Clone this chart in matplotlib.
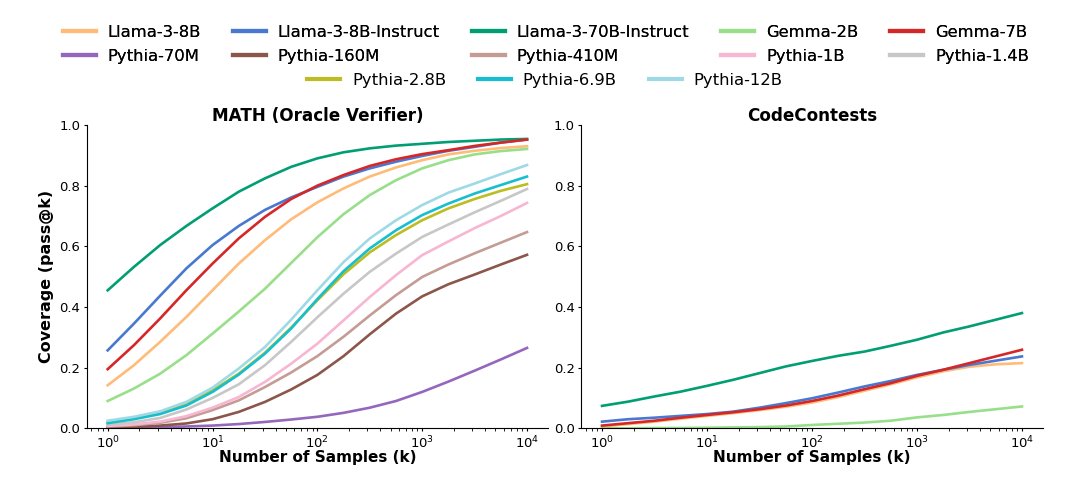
import numpy as np
import matplotlib
matplotlib.use("Agg")
import matplotlib.pyplot as plt
from matplotlib.lines import Line2D

# Samples k at quarter decades, 10^0 .. 10^4
k_exp = [0, 0.25, 0.5, 0.75, 1, 1.25, 1.5, 1.75, 2, 2.25, 2.5, 2.75, 3, 3.25, 3.5, 3.75, 4]
k = [10 ** e for e in k_exp]

models = ["Llama-3-8B", "Llama-3-8B-Instruct", "Llama-3-70B-Instruct", "Gemma-2B", "Gemma-7B",
          "Pythia-70M", "Pythia-160M", "Pythia-410M", "Pythia-1B", "Pythia-1.4B",
          "Pythia-2.8B", "Pythia-6.9B", "Pythia-12B"]
colors = ["#ffbb78", "#4878d0", "#029e73", "#98df8a", "#d62728",
          "#9467bd", "#8c564b", "#c49c94", "#f7b6d2", "#c7c7c7",
          "#bcbd22", "#17becf", "#9edae5"]

# MATH (Oracle Verifier) coverage
math_llama3_8b = [0.142, 0.208, 0.285, 0.367, 0.455, 0.543, 0.62, 0.689, 0.745, 0.791, 0.83, 0.86, 0.884, 0.903, 0.915, 0.924, 0.93]
math_llama3_8b_inst = [0.257, 0.345, 0.437, 0.527, 0.604, 0.667, 0.72, 0.761, 0.796, 0.83, 0.857, 0.879, 0.898, 0.915, 0.928, 0.942, 0.952]
math_llama3_70b_inst = [0.455, 0.532, 0.604, 0.667, 0.725, 0.78, 0.824, 0.862, 0.89, 0.91, 0.923, 0.932, 0.938, 0.944, 0.948, 0.952, 0.954]
math_gemma_2b = [0.09, 0.131, 0.18, 0.241, 0.312, 0.385, 0.46, 0.545, 0.63, 0.706, 0.769, 0.818, 0.857, 0.884, 0.903, 0.914, 0.921]
math_gemma_7b = [0.195, 0.274, 0.362, 0.455, 0.543, 0.626, 0.697, 0.756, 0.80, 0.835, 0.865, 0.887, 0.904, 0.917, 0.931, 0.942, 0.952]
math_pythia_70m = [0.001, 0.002, 0.004, 0.006, 0.009, 0.014, 0.021, 0.029, 0.038, 0.051, 0.068, 0.09, 0.12, 0.154, 0.19, 0.227, 0.265]
math_pythia_160m = [0.003, 0.005, 0.009, 0.016, 0.03, 0.054, 0.087, 0.128, 0.176, 0.238, 0.31, 0.378, 0.435, 0.475, 0.507, 0.54, 0.572]
math_pythia_410m = [0.006, 0.01, 0.018, 0.033, 0.06, 0.092, 0.136, 0.184, 0.238, 0.302, 0.372, 0.439, 0.499, 0.54, 0.577, 0.612, 0.647]
math_pythia_1b = [0.008, 0.013, 0.022, 0.04, 0.068, 0.103, 0.153, 0.213, 0.279, 0.356, 0.433, 0.505, 0.571, 0.616, 0.66, 0.70, 0.743]
math_pythia_1_4b = [0.012, 0.02, 0.034, 0.062, 0.1, 0.145, 0.208, 0.285, 0.366, 0.444, 0.516, 0.576, 0.631, 0.672, 0.712, 0.75, 0.789]
math_pythia_2_8b = [0.02, 0.033, 0.05, 0.078, 0.125, 0.18, 0.249, 0.332, 0.422, 0.508, 0.58, 0.637, 0.686, 0.725, 0.756, 0.783, 0.805]
math_pythia_6_9b = [0.017, 0.03, 0.047, 0.075, 0.12, 0.177, 0.246, 0.329, 0.426, 0.518, 0.593, 0.653, 0.703, 0.741, 0.774, 0.802, 0.83]
math_pythia_12b = [0.025, 0.038, 0.056, 0.087, 0.134, 0.197, 0.268, 0.358, 0.455, 0.548, 0.626, 0.686, 0.736, 0.777, 0.807, 0.838, 0.868]

math_series = [math_llama3_8b, math_llama3_8b_inst, math_llama3_70b_inst, math_gemma_2b, math_gemma_7b,
               math_pythia_70m, math_pythia_160m, math_pythia_410m, math_pythia_1b, math_pythia_1_4b,
               math_pythia_2_8b, math_pythia_6_9b, math_pythia_12b]

# CodeContests coverage
cc_llama3_8b = [0.006, 0.014, 0.022, 0.032, 0.041, 0.05, 0.06, 0.071, 0.085, 0.103, 0.124, 0.145, 0.168, 0.188, 0.203, 0.211, 0.215]
cc_llama3_8b_inst = [0.022, 0.03, 0.035, 0.041, 0.047, 0.055, 0.068, 0.083, 0.099, 0.118, 0.138, 0.156, 0.176, 0.193, 0.209, 0.223, 0.237]
cc_llama3_70b_inst = [0.074, 0.088, 0.105, 0.121, 0.14, 0.16, 0.182, 0.204, 0.222, 0.239, 0.253, 0.272, 0.292, 0.316, 0.336, 0.358, 0.38]
cc_gemma_2b = [0.0, 0.0, 0.001, 0.001, 0.002, 0.003, 0.004, 0.006, 0.011, 0.015, 0.019, 0.025, 0.036, 0.044, 0.054, 0.063, 0.072]
cc_gemma_7b = [0.009, 0.017, 0.025, 0.035, 0.044, 0.053, 0.063, 0.075, 0.09, 0.108, 0.129, 0.149, 0.173, 0.193, 0.215, 0.237, 0.259]

cc_models = ["Llama-3-8B", "Llama-3-8B-Instruct", "Llama-3-70B-Instruct", "Gemma-2B", "Gemma-7B"]
cc_series = [cc_llama3_8b, cc_llama3_8b_inst, cc_llama3_70b_inst, cc_gemma_2b, cc_gemma_7b]

yticks = [0.0, 0.2, 0.4, 0.6, 0.8, 1.0]

fig = plt.figure(figsize=(10.8, 4.86), dpi=100)
ax1 = fig.add_axes([0.0803, 0.1187, 0.4271, 0.6241])
ax2 = fig.add_axes([0.538, 0.1187, 0.4277, 0.6241])

cmap = dict(zip(models, colors))
LW = 1.9

for name, ys in zip(models, math_series):
    ax1.plot(k, ys, color=cmap[name], lw=LW, label=name)
for name, ys in zip(cc_models, cc_series):
    ax2.plot(k, ys, color=cmap[name], lw=LW, label=name)

for ax, title in [(ax1, "MATH (Oracle Verifier)"), (ax2, "CodeContests")]:
    ax.set_xscale("log")
    ax.set_ylim(0, 1.0)
    ax.set_yticks(yticks)
    ax.set_yticklabels([f"{v:.1f}" for v in yticks])
    ax.set_title(title, fontsize=12.1, fontweight="bold", pad=3)
    ax.set_xlabel("Number of Samples (k)", fontsize=11, fontweight="bold", labelpad=-0.5)
    ax.spines["top"].set_visible(False)
    ax.spines["right"].set_visible(False)
    ax.tick_params(axis="both", which="major", labelsize=9.5, length=2.5, pad=2)
    ax.tick_params(axis="x", which="minor", length=1.8)
ax1.set_ylabel("Coverage (pass@k)", fontsize=11.5, fontweight="bold")

handles = [Line2D([0], [0], color=c, lw=3) for c in colors]
# first two rows (row-major ordering for a 5-column legend)
order = [0, 5, 1, 6, 2, 7, 3, 8, 4, 9]
common = dict(frameon=False, fontsize=11.8, handlelength=2.0, handletextpad=0.73,
              columnspacing=1.95, loc="upper center")
leg1 = fig.legend([handles[i] for i in order], [models[i] for i in order], ncol=5,
                  bbox_to_anchor=(0.5055, 0.979), labelspacing=0.55, **common)
fig.add_artist(leg1)
fig.legend(handles[10:], models[10:], ncol=3, bbox_to_anchor=(0.5045, 0.8806), **common)

fig.savefig("out.png", dpi=100)
